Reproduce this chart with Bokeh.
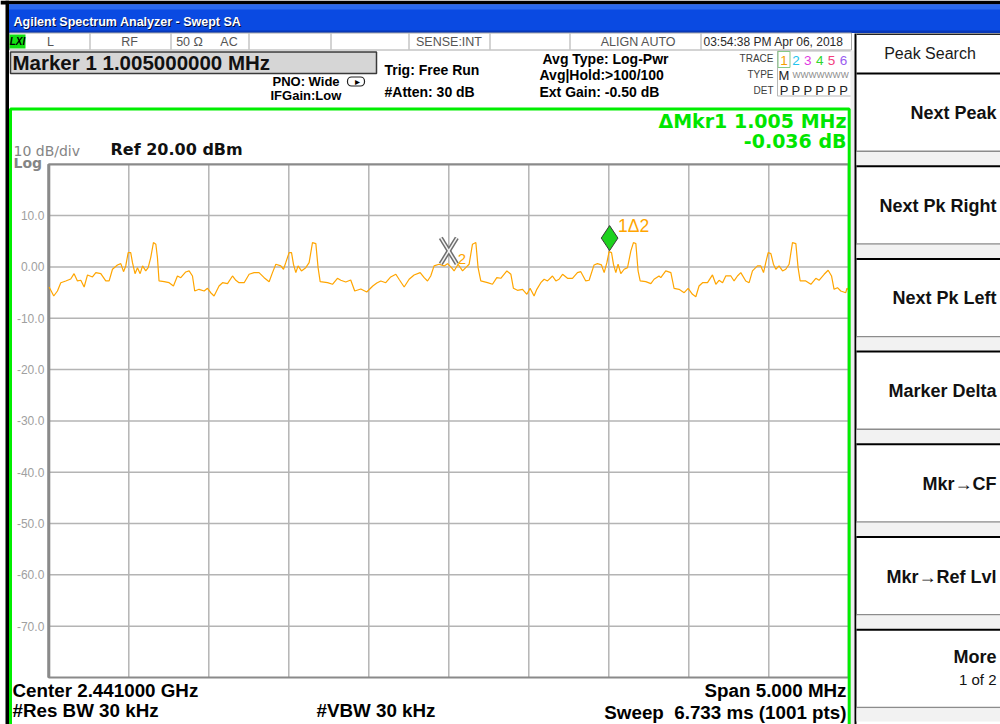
from bokeh.plotting import figure
from bokeh.models import Range1d, BoxAnnotation, Label, ColumnDataSource
from bokeh.embed import file_html
from bokeh.resources import INLINE
from bokeh.core.properties import value

# ---------------- instrument settings ----------------
CENTER_MHZ = 2441.0
SPAN_MHZ = 5.0
REF_DBM = 20.0
DB_PER_DIV = 10.0
N_DIV = 10

# ---------------- trace 1 ----------------
freq_offset_mhz = [
    -2.498, -2.469, -2.446, -2.425, -2.394, -2.363, -2.342, -2.321, -2.300, -2.279,
    -2.258, -2.227, -2.206, -2.175, -2.144, -2.123, -2.102, -2.071, -2.050, -2.033,
    -2.019, -2.004, -1.988, -1.977, -1.961, -1.946, -1.929, -1.914, -1.894, -1.879,
    -1.863, -1.846, -1.831, -1.821, -1.811, -1.779, -1.748, -1.721, -1.696, -1.675,
    -1.644, -1.623, -1.602, -1.588, -1.561, -1.529, -1.508, -1.488, -1.467, -1.436,
    -1.414, -1.383, -1.352, -1.331, -1.311, -1.279, -1.248, -1.217, -1.186, -1.154,
    -1.123, -1.102, -1.081, -1.050, -1.033, -1.019, -0.998, -0.983, -0.971, -0.956,
    -0.942, -0.921, -0.894, -0.873, -0.852, -0.831, -0.817, -0.804, -0.758, -0.727,
    -0.696, -0.675, -0.644, -0.613, -0.588, -0.550, -0.513, -0.475, -0.450,
    -0.425, -0.394, -0.363, -0.331, -0.311, -0.279, -0.248, -0.217, -0.179, -0.154,
    -0.133, -0.113, -0.092, -0.061, -0.029, -0.008, 0.017, 0.033, 0.058, 0.086,
    0.106, 0.127, 0.148, 0.169, 0.183, 0.200, 0.242, 0.273, 0.300, 0.325,
    0.363, 0.388, 0.404, 0.429, 0.461, 0.488, 0.508, 0.533, 0.550, 0.575,
    0.596, 0.617, 0.648, 0.669, 0.689, 0.711, 0.742, 0.773, 0.804, 0.825,
    0.856, 0.877, 0.908, 0.929, 0.954, 0.971, 0.988, 1.002, 1.017, 1.029,
    1.044, 1.058, 1.075, 1.096, 1.117, 1.138, 1.154, 1.169, 1.183, 1.196,
    1.231, 1.263, 1.283, 1.314,
    1.325, 1.356, 1.388, 1.408, 1.439, 1.471, 1.496, 1.523, 1.544, 1.564,
    1.586, 1.617, 1.648, 1.669, 1.689, 1.711, 1.731, 1.763, 1.783, 1.804,
    1.825, 1.856, 1.877, 1.898, 1.929, 1.950, 1.967, 1.981, 1.996, 2.013,
    2.029, 2.044, 2.064, 2.086, 2.106, 2.127, 2.148, 2.169, 2.183, 2.196,
    2.231, 2.263, 2.294, 2.314, 2.346, 2.371, 2.392, 2.408, 2.429, 2.450,
    2.481, 2.488, 2.500,
]
level_dbm = [
    -3.91, -5.66, -4.69, -3.07, -2.73, -2.34, -1.31, -2.73, -2.60, -3.91,
    -1.56, -1.95, -1.11, -1.31, -2.73, -2.73, -0.45, 0.39, 0.64, -0.92,
    0.20, 2.79, 2.79, 0.84, -1.31, -0.14, -1.31, 0.20, -0.78, -0.14,
    1.82, 4.75, 4.43, 1.82, -2.73, -2.87, -3.07, -3.71, -1.76, -2.09,
    -0.98, -0.78, -1.76, -4.69, -4.36, -4.69, -4.16, -5.02, -5.66, -3.71,
    -3.07, -3.26, -1.76, -2.60, -3.07, -3.07, -1.43, -1.11, -1.11, -2.09,
    -2.87, -1.11, 0.53, 0.20, -0.45, 0.84, 2.79, 2.79, 0.53, -1.11,
    0.20, -0.78, -0.14, 0.84, 4.75, 4.55, -0.14, -2.87, -3.07, -3.38,
    -2.21, -2.60, -2.93, -2.54, -4.69, -4.30, -4.88, -3.71, -3.13,
    -2.73, -3.07, -1.95, -1.43, -2.40, -3.91, -2.40, -1.56, -1.11, -2.09,
    -2.73, -1.76, 0.20, 0.53, 0.20, 0.64, -0.14, -0.78, 0.53, -0.78,
    -0.14, 0.53, 4.43, 4.75, -0.14, -2.73, -3.07, -3.38, -2.09, -2.21,
    -0.78, -1.43, -4.16, -4.55, -4.36, -5.33, -4.16, -5.66, -4.36, -3.07,
    -2.40, -2.73, -1.76, -2.73, -2.40, -1.43, -2.21, -2.21, -1.11, -0.92,
    -2.73, -2.60, 0.39, 0.64, 0.39, -1.11, 0.84, 2.99, 2.79, 0.53,
    -1.11, 0.53, -1.31, -0.45, -0.14, 3.13, 4.75, 4.55, -0.78, -2.73,
    -2.87, -3.26, -2.40, -1.76,
    -2.09, -0.78, -1.11, -4.16, -4.36, -5.02, -4.16, -5.33, -5.80, -3.71,
    -3.07, -3.07, -1.56, -3.38, -2.60, -3.07, -1.76, -1.76, -2.73, -1.76,
    -1.11, -2.73, -3.07, -0.78, 0.20, 0.20, -1.11, 0.84, 2.79, 2.60,
    0.53, -0.45, 0.20, -0.78, -0.45, 0.53, 4.75, 4.55, -0.14, -2.73,
    -2.73, -3.38, -2.21, -2.60, -1.43, -0.64, -1.76, -4.36, -4.04, -4.69,
    -5.02, -4.16, -4.49,
]

ytick_values = [10, 0, -10, -20, -30, -40, -50, -60, -70]
ytick_labels = ["10.0", "0.00", "-10.0", "-20.0", "-30.0", "-40.0", "-50.0", "-60.0", "-70.0"]

marker_freq_mhz = [2442.005, 2441.000]    # marker 1 (delta), marker 2 (reference)
marker_level_dbm = [3.09, 3.13]

softkey_labels = ["Next Peak", "Next Pk Right", "Next Pk Left", "Marker Delta",
                  "Mkr\u2192CF", "Mkr\u2192Ref Lvl", "More"]
trace_numbers = ["1", "2", "3", "4", "5", "6"]
trace_colors = ["#F5A000", "#22C4EE", "#E23AE2", "#2ED62E", "#F2407E", "#9A5CF0"]

# ---------------- layout ----------------
W, H = 1000, 724
GRID_L, GRID_R, GRID_T, GRID_B = 48.3, 848.3, 163.8, 677.0   # graticule on screen
PX_PER_MHZ = (GRID_R - GRID_L) / SPAN_MHZ
PX_PER_DB = (GRID_B - GRID_T) / (N_DIV * DB_PER_DIV)
F_LO, F_HI = CENTER_MHZ - SPAN_MHZ / 2, CENTER_MHZ + SPAN_MHZ / 2
L_TOP, L_BOT = REF_DBM, REF_DBM - N_DIV * DB_PER_DIV
TRACE_COLOR = "#FFA500"

p = figure(width=W, height=H, output_backend="svg", toolbar_location=None, title=None,
           x_range=Range1d(F_LO - GRID_L / PX_PER_MHZ, F_LO + (W - GRID_L) / PX_PER_MHZ),
           y_range=Range1d(L_BOT - (H - GRID_B) / PX_PER_DB, L_TOP + GRID_T / PX_PER_DB),
           x_axis_location=None, y_axis_location=None, min_border=0,
           background_fill_color="white", border_fill_color="white",
           outline_line_color=None)
p.grid.visible = False
# screen coordinate system (pixels, y down) for the instrument decorations
p.extra_x_ranges = {"cx": Range1d(0, W)}
p.extra_y_ranges = {"cy": Range1d(H, 0)}

# graticule: 10 x 10 divisions
div_f = [F_LO + k * SPAN_MHZ / N_DIV for k in range(1, N_DIV)]
div_l = [L_TOP - k * DB_PER_DIV for k in range(1, N_DIV)]
p.segment(x0=div_f, y0=[L_BOT] * len(div_f), x1=div_f, y1=[L_TOP] * len(div_f),
          line_color="#B4B4B4", line_width=1.5)
p.segment(x0=[F_LO] * len(div_l), y0=div_l, x1=[F_HI] * len(div_l), y1=div_l,
          line_color="#B4B4B4", line_width=1.5)
p.quad(left=[F_LO], right=[F_HI], top=[L_TOP], bottom=[L_BOT],
       fill_alpha=0, line_color="#8A8A8A", line_width=2.2)
p.segment(x0=[F_LO], y0=[L_BOT], x1=[F_LO], y1=[L_TOP], line_color="#8A8A8A", line_width=3)

# y tick labels (amplitude scale)
p.text(x=[F_LO] * len(ytick_values), y=ytick_values, text=ytick_labels,
       x_offset=-4.5, text_align="right", text_baseline="middle",
       text_font=value("Liberation Sans"), text_font_size=value("12px"),
       text_color="#A0A0A0")

# trace
freq_mhz = [CENTER_MHZ + f for f in freq_offset_mhz]
src = ColumnDataSource(data=dict(f=freq_mhz, lvl=level_dbm))
p.line("f", "lvl", source=src, line_color=TRACE_COLOR, line_width=1.2)

# marker 2 : outlined X
m2f, m2l = marker_freq_mhz[1], marker_level_dbm[1]
hx, hy = 8 / PX_PER_MHZ, 13 / PX_PER_DB
xs0 = [m2f - hx, m2f - hx]; ys0 = [m2l + hy, m2l - hy]
xs1 = [m2f + hx, m2f + hx]; ys1 = [m2l - hy, m2l + hy]
p.segment(xs0, ys0, xs1, ys1, line_color="#6E6E6E", line_width=4.5)
p.segment(xs0, ys0, xs1, ys1, line_color="#F4F4F4", line_width=1.5)
p.add_layout(Label(x=m2f, y=m2l, x_offset=9, y_offset=-8, text="2",
                   text_font="Liberation Sans", text_font_size="15px", text_color=TRACE_COLOR,
                   text_baseline="middle"))

# marker 1 : green diamond sitting on the trace
m1f, m1l = marker_freq_mhz[0], marker_level_dbm[0]
p.scatter([m1f], [m1l + 13 / PX_PER_DB], marker="diamond", size=25,
          fill_color="#1ED21E", line_color="#3A3A3A", line_width=1)
p.add_layout(Label(x=m1f, y=m1l, x_offset=8.5, y_offset=25.5, text="1\u03942",
                   text_font="Liberation Sans", text_font_size="17.5px", text_color=TRACE_COLOR,
                   text_baseline="middle"))


# ---------------- helpers for the instrument screen ----------------
def box(l, r, t, b, fill=None, line=None, lw=1.0, radius=0):
    p.add_layout(BoxAnnotation(left=l, right=r, top=t, bottom=b,
                               x_range_name="cx", y_range_name="cy",
                               fill_color=fill if fill else "white",
                               fill_alpha=1.0 if fill else 0.0,
                               line_color=line if line else "black",
                               line_alpha=1.0 if line else 0.0,
                               line_width=lw, border_radius=radius))


def text(s, x, y, size=13, color="black", bold=False, italic=False,
         font="Liberation Sans", align="left"):
    """y is the vertical centre of the text line on screen."""
    style = "normal"
    if bold and italic:
        style = "bold italic"
    elif bold:
        style = "bold"
    elif italic:
        style = "italic"
    p.add_layout(Label(x=x, y=y, x_range_name="cx", y_range_name="cy", text=s,
                       text_font=font, text_font_size=f"{size}px", text_color=color,
                       text_font_style=style, text_align=align, text_baseline="middle"))


# outer window edge
box(0, 5, 0, 724, fill="white")
box(5, 8.5, 0, 724, fill="#000000")
box(0, 1010, 0, 4, fill="#000000")

# title bar
box(8.5, 1010, 4, 32, fill="#0A4AE2")
box(8.5, 1010, 4, 9, fill="#2A69EE")
box(8.5, 1010, 30, 32.5, fill="#0838B8")
text("Agilent Spectrum Analyzer - Swept SA", 14, 22, size=12.5, color="#000A40", bold=True)
text("Agilent Spectrum Analyzer - Swept SA", 13, 21, size=12.5, color="white", bold=True)

# status row
box(9, 851, 32.5, 49.5, fill="white", line="#A8A8A8", lw=1)
for sx in [89, 170, 248, 330, 408, 489, 569, 700]:
    box(sx, sx + 1, 33, 49, fill="#A8A8A8")
box(9, 25, 34, 48, fill="#12E012")
text("LXI", 17, 41, size=10, bold=True, italic=True, align="center")
for s, cxp in [("L", 50), ("RF", 129), ("50 \u03a9", 189), ("AC", 228.5),
               ("SENSE:INT", 448.5), ("ALIGN AUTO", 638)]:
    text(s, cxp, 41.5, size=12.5, color="#555555", align="center")
text("03:54:38 PM Apr 06, 2018", 703, 41.5, size=12, color="#2A2A2A")

# marker readout box
box(10, 376, 51.5, 73, fill="#D6D6D6", line="#3A3A3A", lw=1.5)
text("Marker 1 1.005000000 MHz", 12, 61.5, size=20.5, bold=True, color="#111111")

# settings block
text("PNO: Wide", 272, 81, size=13, bold=True)
text("IFGain:Low", 270, 95, size=13, bold=True)
box(347, 364, 76.5, 85.5, line="#222222", lw=1.2, radius=4)
text("\u25b8", 357, 81, size=10, align="center")
text("Trig: Free Run", 384, 69, size=14, bold=True)
text("#Atten: 30 dB", 384, 91.3, size=14, bold=True)
text("Avg Type: Log-Pwr", 542, 58.5, size=14, bold=True)
text("Avg|Hold:>100/100", 539, 74, size=14, bold=True)
text("Ext Gain: -0.50 dB", 539, 91.3, size=14, bold=True)

# trace table
box(777, 851, 50.5, 95.5, fill="white", line="#B8B8B8", lw=1)
text("TRACE", 773, 57.5, size=10, color="#404040", align="right")
text("TYPE", 773, 73.5, size=10, color="#404040", align="right")
text("DET", 773, 89.5, size=10, color="#404040", align="right")
box(777.5, 789.5, 51, 67, line="#86C886", lw=1)
for i, (num, col) in enumerate(zip(trace_numbers, trace_colors)):
    cxp = 783.5 + 11.9 * i
    text(num, cxp, 60, size=13.5, color=col, align="center")
    text("P", cxp, 89.5, size=13, color="#222222", align="center")
text("M", 783.5, 74.5, size=13, color="#222222", align="center")
text("WWWWWWW", 792, 74, size=8.5, color="#8A8A8A")

# green measurement window
box(850, 854, 50, 760, fill="#EEEEEE")
box(10, 848.7, 108.5, 760, line="#00EE00", lw=3)
text("\u0394Mkr1 1.005 MHz", 846, 120.5, size=19, bold=True, color="#00E600",
     font="DejaVu Sans", align="right")
text("-0.036 dB", 846, 140, size=19, bold=True, color="#00E600",
     font="DejaVu Sans", align="right")
text("10 dB/div", 13, 150, size=14, color="#858585", font="DejaVu Sans")
text("Log", 13, 162, size=14, bold=True, color="#858585", font="DejaVu Sans")
text("Ref 20.00 dBm", 110, 148.5, size=16, bold=True, color="#111111", font="DejaVu Sans")

# bottom annotation
text(f"Center {CENTER_MHZ / 1000:.6f} GHz", 12, 690, size=18.8, bold=True)
text("#Res BW 30 kHz", 12, 710, size=18.8, bold=True)
text("#VBW 30 kHz", 316, 710, size=18.8, bold=True)
text(f"Span {SPAN_MHZ:.3f} MHz", 846, 690, size=18.8, bold=True, align="right")
text("Sweep\u00a0 6.733 ms (1001 pts)", 846, 711.5, size=18.8, bold=True, align="right")

# softkey panel
box(856, 1010, 33, 760, fill="white")
box(854, 856, 33, 760, fill="#000000")
box(856, 1010, 33, 34.5, fill="#222222")
text("Peak Search", 929.5, 52.5, size=16, color="#1A1A1A", align="center")
KEY_TOP, KEY_PITCH = 73.0, 92.7
for i, lab in enumerate(softkey_labels):
    top = KEY_TOP + KEY_PITCH * i
    box(856, 1010, top - 1, top + 1, fill="#000000")
    box(856, 1010, top + 77, top + 78.5, fill="#8C8C8C")
    box(856, 1010, top + 78.5, top + KEY_PITCH - 1, fill="#F2F2F2")
    if lab == "More":
        text(lab, 996, top + 27, size=18, bold=True, color="#111111", align="right")
        text("1 of 2", 996, top + 50, size=15, color="#111111", align="right")
    else:
        text(lab, 996, top + 39.5, size=18, bold=True, color="#111111", align="right")

open("out.html", "w").write(file_html(p, INLINE))
